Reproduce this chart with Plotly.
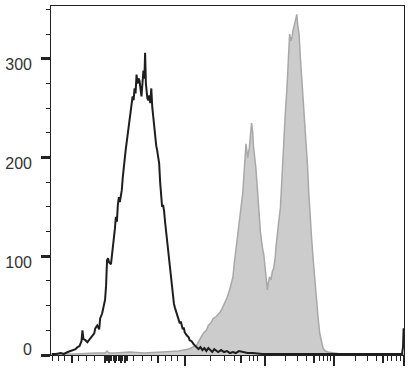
import plotly.graph_objects as go

# Display-scale channel positions (axis spans 45..404) and event counts
black_x = [46, 50, 55, 58, 62, 65, 67, 70, 72, 74, 76, 77, 78, 80, 82, 85, 87, 89, 90, 92, 94, 95, 97, 99,
           100, 101, 102, 103, 104, 106, 107, 108, 110, 111, 112, 113, 114, 115, 117, 118, 119, 120, 121, 122,
           123, 124, 125, 126, 127, 128, 129, 130, 131, 132, 133, 134, 135, 136, 137, 138, 139, 140, 140.7,
           141.5, 142, 143, 144, 145, 146, 147, 148, 149, 150, 151, 152, 153, 154, 155, 156, 157, 158, 159,
           160, 161, 162, 163, 164, 165, 166, 167, 168, 169, 170, 171, 172, 173, 175, 176, 177, 178, 179, 180,
           181, 183, 185, 186, 188, 190, 193, 195, 197, 199, 201, 203, 205, 207, 209, 211, 213, 215, 218, 221,
           224, 227, 230, 233, 236, 240, 245, 250, 260, 270, 300, 350, 400, 402, 403, 403.6]
black_y = [1, 1, 2, 1, 3, 4, 5, 6, 8, 9, 14, 25, 16, 15, 13, 17, 20, 22, 27, 30, 26, 37, 42, 50,
           56, 70, 96, 98, 94, 92, 100, 110, 128, 140, 135, 152, 160, 155, 167, 180, 195, 199, 208, 215,
           225, 230, 240, 245, 253, 262, 258, 270, 265, 284, 275, 280, 278, 270, 262, 275, 288, 280, 306,
           275, 268, 260, 258, 263, 255, 270, 251, 240, 227, 220, 212, 207, 200, 194, 175, 160, 150, 152,
           146, 135, 126, 115, 105, 96, 88, 75, 66, 58, 52, 48, 45, 40, 35, 32, 34, 30, 26, 28,
           23, 20, 18, 15, 14, 11, 8, 6, 8, 5, 7, 4, 7, 5, 3, 6, 4, 3, 5, 3,
           4, 2, 3, 2, 4, 3, 2, 2, 1, 1, 1, 1, 1, 1, 8, 27]

gray_x = [45, 50, 70, 90, 100, 102, 104, 110, 125, 140, 160, 175, 185, 190, 193.3, 197, 200, 203, 205, 208,
          210, 213, 216.7, 219, 221.7, 224, 226.7, 228, 230, 231.5, 233.3, 235, 236.7, 238.5, 240, 241.7,
          243.3, 245, 246.7, 249, 250, 251, 252, 253.3, 255, 256.7, 258, 260, 261.5, 262.7, 264, 265, 266,
          267.3, 268.7, 270, 271.5, 272.7, 274, 275, 276.7, 278.3, 280, 281.7, 283.3, 285, 286.5, 287.7,
          289, 290, 291, 292.3, 293.5, 295, 296, 297.3, 298.5, 300, 301.5, 303.3, 305, 306, 307, 308.3,
          310, 311.7, 313.3, 315, 316.7, 318.3, 320, 321.7, 324, 326.7, 333, 340, 360, 404]
gray_y = [1, 1, 1, 2, 2, 4, 2, 2, 3, 2, 3, 4, 6, 8, 10, 17, 22, 25, 30, 33,
          37, 39, 43, 47, 53, 58, 66, 71, 79, 94, 109, 124, 136, 152, 164, 190,
          214, 200, 210, 235, 227, 210, 202, 190, 167, 143, 124, 109, 101, 89, 76, 66, 73,
          79, 76, 84, 88, 96, 111, 123, 136, 149, 186, 217, 245, 271, 303, 325,
          318, 321, 328, 333, 340, 345, 333, 325, 303, 281, 258, 237, 212, 190, 167, 143,
          119, 96, 74, 56, 37, 22, 13, 7, 4, 3, 2, 1, 1, 1]

y_ticks = [0, 100, 200, 300]
y_labels = ["0", "100", "200", "300"]
y_label_pos = [6, 94, 194.5, 294]

x_long_ticks = [181.5, 262.3, 333.3, 404]
x_mid_ticks = [66, 154.3, 238.3, 312.2, 382.3, 100, 104, 110, 116, 120]
x_short_ticks = [46.7, 52.7, 59, 73.3, 80.7, 89.3, 99, 101, 102.5, 105.5, 107, 108.5, 112, 113.5, 115,
                 118, 121.5, 123, 129, 138.3, 146.7, 161.7, 167.3, 173.3, 207.5, 221.7, 231.7, 246.7,
                 251, 255, 283.3, 296, 305, 318.3, 322.3, 326, 329.3, 355, 366.7, 376, 387.7, 391.7,
                 396, 400]

X_RANGE = [45, 404]
Y_RANGE = [0, 353.5]
AX = "#222222"

fig = go.Figure()
fig.add_trace(go.Scatter(x=gray_x, y=gray_y, mode="lines", fill="tozeroy",
                         fillcolor="rgb(204,204,204)", line=dict(color="rgb(168,168,168)", width=1.5),
                         hoverinfo="skip"))
fig.add_trace(go.Scatter(x=black_x, y=black_y, mode="lines",
                         line=dict(color="#1e1e1e", width=2), hoverinfo="skip"))
fig.add_trace(go.Scatter(x=[], y=[], xaxis="x2", yaxis="y", hoverinfo="skip"))
fig.add_trace(go.Scatter(x=[], y=[], xaxis="x3", yaxis="y", hoverinfo="skip"))
fig.add_trace(go.Scatter(x=[], y=[], xaxis="x", yaxis="y2", hoverinfo="skip"))

common_x = dict(range=X_RANGE, showgrid=False, zeroline=False, showticklabels=False,
                ticks="outside", tickcolor=AX, fixedrange=True)
fig.update_layout(
    width=418, height=375,
    margin=dict(l=45, r=14, t=5, b=20),
    paper_bgcolor="white", plot_bgcolor="white",
    showlegend=False,
    xaxis=dict(**common_x, tickvals=x_long_ticks, ticklen=10, tickwidth=1.5,
               showline=True, linecolor=AX, linewidth=1.4, mirror=True),
    xaxis2=dict(**common_x, tickvals=x_mid_ticks, ticklen=7, tickwidth=2,
                overlaying="x", anchor="y", side="bottom", showline=False),
    xaxis3=dict(**common_x, tickvals=x_short_ticks, ticklen=5, tickwidth=1,
                overlaying="x", anchor="y", side="bottom", showline=False),
    yaxis=dict(range=Y_RANGE, showgrid=False, zeroline=False, showticklabels=False,
               tickvals=y_ticks, ticks="outside", ticklen=9, tickwidth=2.5, tickcolor=AX,
               minor=dict(dtick=25, ticks="outside", ticklen=4, tickwidth=1, tickcolor=AX),
               showline=True, linecolor=AX, linewidth=1.4, mirror=True),
    yaxis2=dict(range=Y_RANGE, overlaying="y", anchor="x", side="left", showgrid=False,
                zeroline=False, showline=False, ticks="", tickvals=y_label_pos, ticktext=y_labels,
                ticklabelstandoff=18,
                tickfont=dict(family="Liberation Sans, Arial, sans-serif", size=16, color="#333333")),
)

fig.write_html("out.html")
